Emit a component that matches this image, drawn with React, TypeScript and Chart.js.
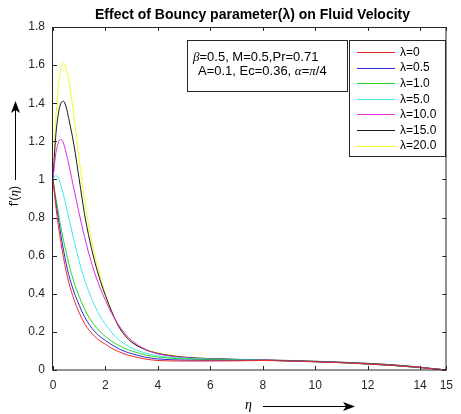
import { useEffect, useRef } from "react";
import { Chart, registerables } from "chart.js";
Chart.register(...registerables);

const eta = [0, 0.1, 0.2, 0.3, 0.4, 0.5, 0.6, 0.8, 1.0, 1.2, 1.4, 1.6, 1.8, 2.0, 2.25, 2.5, 2.75, 3, 3.5, 4, 5, 6, 7, 8, 9, 10, 11, 12, 13, 14, 15];

const fLambda0 = [1.0, 0.87, 0.76, 0.67, 0.59, 0.52, 0.46, 0.37, 0.3, 0.245, 0.205, 0.175, 0.152, 0.135, 0.113, 0.097, 0.083, 0.073, 0.058, 0.05, 0.047, 0.047, 0.048, 0.05, 0.047, 0.043, 0.038, 0.032, 0.024, 0.013, 0];
const fLambda05 = [1.0, 0.89, 0.8, 0.71, 0.63, 0.56, 0.5, 0.41, 0.34, 0.28, 0.235, 0.2, 0.175, 0.155, 0.132, 0.112, 0.097, 0.086, 0.068, 0.058, 0.052, 0.051, 0.051, 0.051, 0.048, 0.044, 0.039, 0.032, 0.024, 0.013, 0];
const fLambda1 = [1.0, 0.91, 0.83, 0.75, 0.68, 0.62, 0.56, 0.46, 0.385, 0.32, 0.27, 0.232, 0.2, 0.176, 0.15, 0.13, 0.113, 0.1, 0.08, 0.068, 0.058, 0.055, 0.053, 0.051, 0.048, 0.044, 0.039, 0.032, 0.024, 0.013, 0];
const fLambda5 = [1.0, 1.02, 1.01, 0.97, 0.92, 0.86, 0.8, 0.68, 0.57, 0.475, 0.4, 0.335, 0.28, 0.24, 0.195, 0.16, 0.135, 0.115, 0.09, 0.075, 0.062, 0.057, 0.054, 0.051, 0.047, 0.043, 0.038, 0.031, 0.023, 0.012, 0];
const fLambda10 = [1.0, 1.13, 1.19, 1.21, 1.19, 1.14, 1.08, 0.95, 0.82, 0.7, 0.595, 0.505, 0.43, 0.365, 0.295, 0.236, 0.19, 0.155, 0.11, 0.085, 0.065, 0.058, 0.055, 0.052, 0.048, 0.044, 0.039, 0.032, 0.024, 0.013, 0];
const fLambda15 = [1.0, 1.22, 1.34, 1.4, 1.41, 1.38, 1.32, 1.18, 1.0, 0.82, 0.68, 0.565, 0.47, 0.39, 0.303, 0.23, 0.18, 0.146, 0.108, 0.087, 0.067, 0.06, 0.056, 0.053, 0.05, 0.046, 0.041, 0.035, 0.027, 0.015, 0];
const fLambda20 = [1.0, 1.3, 1.48, 1.58, 1.61, 1.58, 1.52, 1.33, 1.1, 0.9, 0.73, 0.6, 0.49, 0.4, 0.305, 0.23, 0.18, 0.148, 0.11, 0.09, 0.068, 0.06, 0.055, 0.052, 0.048, 0.044, 0.038, 0.031, 0.023, 0.012, 0];

const seriesValues = [fLambda0, fLambda05, fLambda1, fLambda5, fLambda10, fLambda15, fLambda20];
const seriesLabels = ["λ=0", "λ=0.5", "λ=1.0", "λ=5.0", "λ=10.0", "λ=15.0", "λ=20.0"];
const seriesColors = ["#ee2a2a", "#2a2ad0", "#2ad62a", "#40e8e8", "#e02ae0", "#1a1a1a", "#f8f820"];

const xTickValues = [0, 2, 4, 6, 8, 10, 12, 14, 15];
const yTickValues = [0, 0.2, 0.4, 0.6, 0.8, 1.0, 1.2, 1.4, 1.6, 1.8];

const titleText = "Effect of Bouncy parameter(λ) on Fluid Velocity";

const SANS = '"Liberation Sans", Arial, sans-serif';
const SERIF = '"Liberation Serif", "DejaVu Serif", serif';
const AXIS_COLOR = "#262626";

type Seg = { t: string; f: string };

function drawRich(ctx: CanvasRenderingContext2D, segs: Seg[], x: number, y: number) {
  let cx = x;
  ctx.textAlign = "left";
  ctx.textBaseline = "middle";
  for (const s of segs) {
    ctx.font = s.f;
    ctx.fillText(s.t, cx, y);
    cx += ctx.measureText(s.t).width;
  }
  return cx - x;
}

function richWidth(ctx: CanvasRenderingContext2D, segs: Seg[]) {
  let w = 0;
  for (const s of segs) {
    ctx.font = s.f;
    w += ctx.measureText(s.t).width;
  }
  return w;
}

const decorPlugin = {
  id: "decor",
  afterDatasetsDraw(chart: any) {
    const ctx: CanvasRenderingContext2D = chart.ctx;
    const { left, right, top, bottom } = chart.chartArea;
    const xs = chart.scales.x;
    const ys = chart.scales.y;
    ctx.save();
    // box
    ctx.strokeStyle = AXIS_COLOR;
    ctx.lineWidth = 1;
    ctx.strokeRect(Math.round(left) - 0.5, Math.round(top) + 0.5, Math.round(right - left) + 0.5, Math.round(bottom - top) - 0.5);
    // ticks inward on all sides
    const tl = 4;
    ctx.beginPath();
    for (const t of xs.ticks) {
      const px = Math.round(xs.getPixelForValue(t.value)) + 0.5;
      ctx.moveTo(px, bottom);
      ctx.lineTo(px, bottom - tl);
      ctx.moveTo(px, top);
      ctx.lineTo(px, top + tl);
    }
    for (const t of ys.ticks) {
      const py = Math.round(ys.getPixelForValue(t.value)) + 0.5;
      ctx.moveTo(left, py);
      ctx.lineTo(left + tl, py);
      ctx.moveTo(right, py);
      ctx.lineTo(right - tl, py);
    }
    ctx.stroke();

    // title
    ctx.fillStyle = "#000";
    ctx.font = `bold 14px ${SANS}`;
    ctx.textAlign = "center";
    ctx.textBaseline = "middle";
    ctx.fillText(titleText, 252.5, 15);

    // annotation box
    ctx.fillStyle = "#fff";
    ctx.fillRect(187.5, 40.5, 160, 51);
    ctx.strokeStyle = AXIS_COLOR;
    ctx.strokeRect(187.5, 40.5, 160, 51);
    ctx.fillStyle = "#000";
    const fs = `13px ${SANS}`;
    const fg = `italic 13px ${SERIF}`;
    drawRich(ctx, [{ t: "β", f: fg }, { t: "=0.5, M=0.5,Pr=0.71", f: fs }], 193, 57.5);
    drawRich(ctx, [
      { t: "A=0.1, Ec=0.36, ", f: fs },
      { t: "α", f: fg },
      { t: "=", f: fs },
      { t: "π", f: fg },
      { t: "/4", f: fs },
    ], 198, 71.5);

    // legend
    ctx.fillStyle = "#fff";
    ctx.fillRect(349.5, 40.5, 96, 116);
    ctx.strokeStyle = AXIS_COLOR;
    ctx.strokeRect(349.5, 40.5, 96, 116);
    chart.data.datasets.forEach((ds: any, i: number) => {
      const y = 52 + i * 15.6;
      ctx.strokeStyle = ds.borderColor;
      ctx.lineWidth = 1;
      ctx.beginPath();
      ctx.moveTo(357, Math.round(y) + 0.5);
      ctx.lineTo(395, Math.round(y) + 0.5);
      ctx.stroke();
      ctx.fillStyle = "#000";
      ctx.font = `12px ${SANS}`;
      ctx.textAlign = "left";
      ctx.textBaseline = "middle";
      ctx.fillText(ds.label, 400, y + 0.5);
    });

    // x axis label with arrow
    ctx.fillStyle = "#000";
    ctx.strokeStyle = "#000";
    ctx.font = `italic 14px ${SERIF}`;
    ctx.textAlign = "left";
    ctx.textBaseline = "middle";
    ctx.fillText("η", 245, 405);
    ctx.lineWidth = 1;
    ctx.beginPath();
    ctx.moveTo(263, 406.5);
    ctx.lineTo(347, 406.5);
    ctx.stroke();
    ctx.beginPath();
    ctx.moveTo(355, 406.5);
    ctx.lineTo(343, 402);
    ctx.lineTo(346, 406.5);
    ctx.lineTo(343, 411);
    ctx.closePath();
    ctx.fill();

    // y axis label with arrow
    ctx.save();
    ctx.translate(15, 196);
    ctx.rotate(-Math.PI / 2);
    const ySegs: Seg[] = [
      { t: "f'(", f: `12px ${SANS}` },
      { t: "η", f: `italic 13px ${SERIF}` },
      { t: ")", f: `12px ${SANS}` },
    ];
    const w = richWidth(ctx, ySegs);
    drawRich(ctx, ySegs, -w / 2, 0);
    ctx.restore();
    ctx.beginPath();
    ctx.moveTo(15.5, 180);
    ctx.lineTo(15.5, 110);
    ctx.stroke();
    ctx.beginPath();
    ctx.moveTo(15.5, 101);
    ctx.lineTo(11, 113);
    ctx.lineTo(15.5, 110);
    ctx.lineTo(20, 113);
    ctx.closePath();
    ctx.fill();

    ctx.restore();
  },
};

export default function App() {
  const ref = useRef<HTMLCanvasElement | null>(null);
  useEffect(() => {
    document.body.style.margin = "0";
    const canvas = ref.current!;
    const datasets = seriesValues.map((vals, i) => ({
      label: seriesLabels[i],
      data: eta.map((x, j) => ({ x, y: vals[j] })),
      borderColor: seriesColors[i],
      backgroundColor: seriesColors[i],
      borderWidth: 1,
      pointRadius: 0,
      fill: false,
      cubicInterpolationMode: "monotone" as const,
    }));
    const chart = new Chart(canvas, {
      type: "line",
      data: { datasets },
      options: {
        animation: false,
        responsive: false,
        devicePixelRatio: 1,
        layout: { padding: { left: 0, right: 8, top: 27, bottom: 0 } },
        plugins: {
          legend: { display: false },
          title: { display: false },
          tooltip: { enabled: false },
        },
        scales: {
          x: {
            type: "linear",
            min: 0,
            max: 15,
            grid: { display: false, drawTicks: false },
            border: { display: false },
            afterBuildTicks: (s: any) => {
              s.ticks = xTickValues.map((v) => ({ value: v }));
            },
            afterFit: (s: any) => {
              s.height = 44;
            },
            ticks: {
              padding: 8,
              maxRotation: 0,
              autoSkip: false,
              color: AXIS_COLOR,
              font: { family: SANS, size: 12 },
              callback: (v: any) => String(v),
            },
          },
          y: {
            type: "linear",
            min: 0,
            max: 1.8,
            grid: { display: false, drawTicks: false },
            border: { display: false },
            afterBuildTicks: (s: any) => {
              s.ticks = yTickValues.map((v) => ({ value: v }));
            },
            afterFit: (s: any) => {
              s.width = 53;
            },
            ticks: {
              padding: 8,
              autoSkip: false,
              color: AXIS_COLOR,
              font: { family: SANS, size: 12 },
              callback: (v: any) => String(Math.round(Number(v) * 10) / 10),
            },
          },
        },
      },
      plugins: [decorPlugin],
    });
    return () => chart.destroy();
  }, []);
  return (
    <div style={{ width: 461, height: 414, background: "#fff" }}>
      <canvas ref={ref} width={461} height={414} style={{ display: "block" }} />
    </div>
  );
}
